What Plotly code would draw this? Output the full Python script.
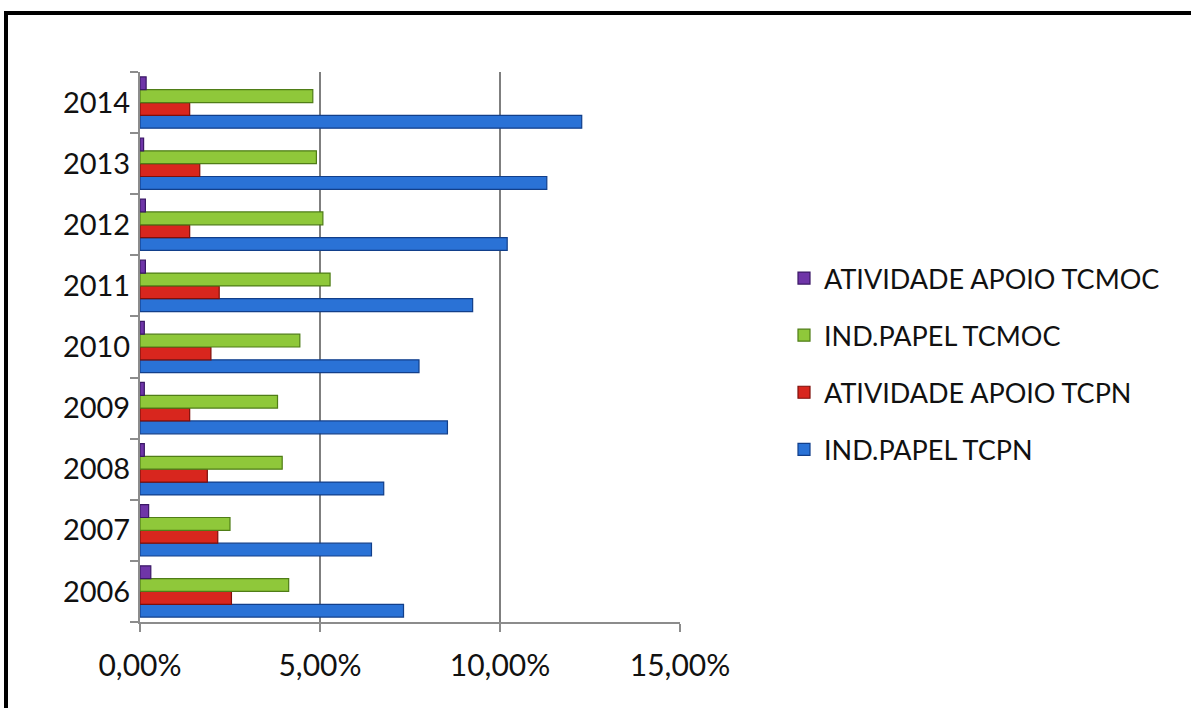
import plotly.graph_objects as go

years = ["2006", "2007", "2008", "2009", "2010", "2011", "2012", "2013", "2014"]
ind_papel_tcpn = [7.32, 6.43, 6.77, 8.54, 7.75, 9.24, 10.20, 11.30, 12.27]
atividade_apoio_tcpn = [2.54, 2.16, 1.87, 1.38, 1.97, 2.20, 1.38, 1.66, 1.38]
ind_papel_tcmoc = [4.13, 2.50, 3.95, 3.82, 4.44, 5.28, 5.08, 4.90, 4.80]
atividade_apoio_tcmoc = [0.30, 0.24, 0.12, 0.12, 0.12, 0.15, 0.15, 0.10, 0.17]

x_tickvals = [0, 5, 10, 15]
x_ticktext = ["0,00%", "5,00%", "10,00%", "15,00%"]

series = [
    ("IND.PAPEL TCPN", ind_papel_tcpn, "#2a72d6", "#123f8a", 4),
    ("ATIVIDADE APOIO TCPN", atividade_apoio_tcpn, "#d8261e", "#7e0f0b", 3),
    ("IND.PAPEL TCMOC", ind_papel_tcmoc, "#8fc83a", "#4f7d17", 2),
    ("ATIVIDADE APOIO TCMOC", atividade_apoio_tcmoc, "#6f35a8", "#3b1866", 1),
]

fig = go.Figure()
for i, (name, vals, col, edge, rank) in enumerate(series):
    fig.add_trace(go.Bar(
        y=years, x=vals, name=name, orientation="h",
        marker=dict(color=col, line=dict(color=edge, width=1.2)),
        legendgroup=f"g{i}", legendrank=rank,
    ))

PL, PR, PT, PB = 140, 680, 72, 622
W, H = 1191, 708

def px(x):
    return (x - PL) / (PR - PL)

def py(y):
    return (PB - y) / (PB - PT)

fig.update_layout(
    width=W, height=H,
    margin=dict(l=PL, r=W - PR, t=PT, b=H - PB, autoexpand=False),
    paper_bgcolor="white", plot_bgcolor="white",
    barmode="group", bargap=0.16, bargroupgap=0.0,
    font=dict(family="Lato, sans-serif", color="#111111"),
    xaxis=dict(
        range=[0, 15], tickvals=x_tickvals, ticktext=x_ticktext,
        showgrid=True, gridcolor="#7f7f7f", gridwidth=2,
        showline=True, linecolor="#8c8c8c", linewidth=2,
        ticks="outside", ticklen=8, tickcolor="#8c8c8c", tickwidth=2,
        tickfont=dict(size=30, color="#111111"), ticklabelstandoff=8,
        zeroline=False, fixedrange=True,
    ),
    yaxis=dict(
        type="category", categoryorder="array", categoryarray=years,
        showgrid=False, showline=True, linecolor="#8c8c8c", linewidth=2,
        ticks="outside", ticklen=8, tickcolor="#8c8c8c", tickwidth=2,
        tickson="boundaries",
        tickfont=dict(size=29, color="#111111"), ticklabelstandoff=2,
    ),
    legend=dict(
        x=px(784), y=py(254), xanchor="left", yanchor="top",
        traceorder="grouped", tracegroupgap=19,
        font=dict(size=27, color="#111111"),
        bgcolor="rgba(0,0,0,0)", itemwidth=30,
    ),
    showlegend=True,
    shapes=[
        dict(type="line", xref="paper", yref="paper",
             x0=px(4), x1=px(1195), y0=py(13), y1=py(13),
             line=dict(color="#000000", width=4)),
        dict(type="line", xref="paper", yref="paper",
             x0=px(6), x1=px(6), y0=py(11), y1=py(712),
             line=dict(color="#000000", width=4)),
    ],
)

fig.write_html("out.html")
